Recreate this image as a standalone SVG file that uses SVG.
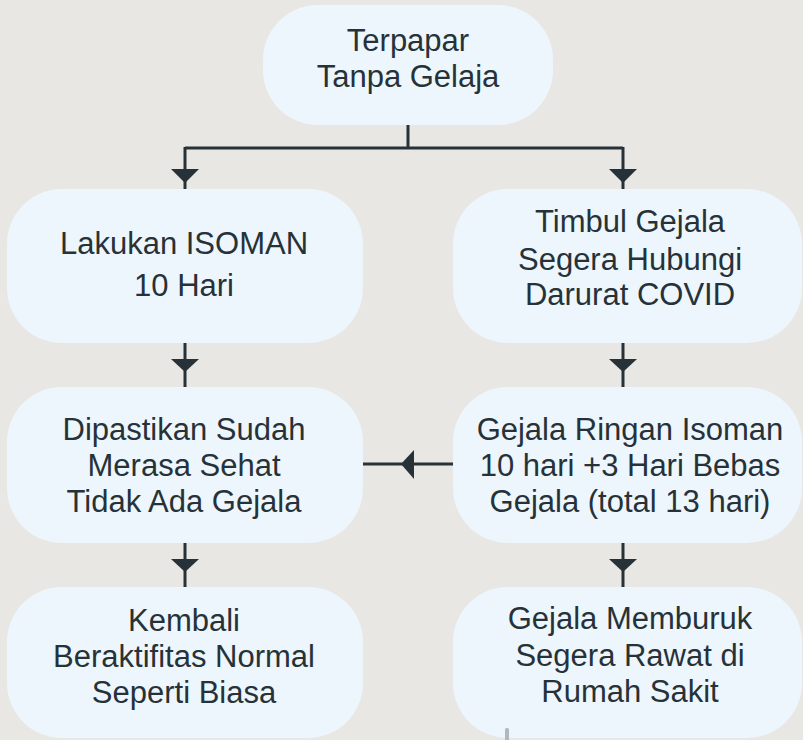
<svg xmlns="http://www.w3.org/2000/svg" width="803" height="740" viewBox="0 0 803 740">
<style>
.bg{fill:#e9e7e4}
.node{fill:#edf6fc}
.t{font-family:"Liberation Sans",Arial,sans-serif;font-size:31px;fill:#263238;text-anchor:middle}
.ln{stroke:#263238;stroke-width:3;fill:none}
.ah{fill:#263238}
</style>
<rect class="bg" x="0" y="0" width="803" height="740"/>
<g id="connectors">
<path class="ln" d="M408 125 V148 M185 148 H623 M185 147 V189 M623 147 V189"/>
<polygon class="ah" points="171,169 199,169 185,183"/>
<polygon class="ah" points="609,169 637,169 623,183"/>
<path class="ln" d="M185 343 V387 M623 343 V387"/>
<polygon class="ah" points="171,359 199,359 185,372"/>
<polygon class="ah" points="609,359 637,359 623,372"/>
<path class="ln" d="M453 464 H363"/>
<polygon class="ah" points="414,450 414,479 401,464"/>
<path class="ln" d="M185 543 V587 M623 543 V587"/>
<polygon class="ah" points="171,559 199,559 185,572"/>
<polygon class="ah" points="609,559 637,559 623,572"/>
</g>
<g id="n-top">
<rect class="node" x="263" y="5" width="290" height="120" rx="55"/>
<text class="t" x="408" y="51">Terpapar</text>
<text class="t" x="408" y="87">Tanpa Gelaja</text>
</g>
<g id="n-isoman">
<rect class="node" x="7" y="189" width="356" height="154" rx="55"/>
<text class="t" x="184" y="254">Lakukan ISOMAN</text>
<text class="t" x="184" y="296">10 Hari</text>
</g>
<g id="n-timbul">
<rect class="node" x="453" y="189" width="349" height="154" rx="55"/>
<text class="t" x="630" y="232">Timbul Gejala</text>
<text class="t" x="630" y="270">Segera Hubungi</text>
<text class="t" x="630" y="305">Darurat COVID</text>
</g>
<g id="n-sehat">
<rect class="node" x="7" y="387" width="356" height="156" rx="55"/>
<text class="t" x="184" y="440">Dipastikan Sudah</text>
<text class="t" x="184" y="476">Merasa Sehat</text>
<text class="t" x="184" y="512">Tidak Ada Gejala</text>
</g>
<g id="n-ringan">
<rect class="node" x="453" y="387" width="349" height="156" rx="55"/>
<text class="t" x="630" y="440">Gejala Ringan Isoman</text>
<text class="t" x="630" y="476">10 hari +3 Hari Bebas</text>
<text class="t" x="630" y="512">Gejala (total 13 hari)</text>
</g>
<g id="n-kembali">
<rect class="node" x="7" y="587" width="356" height="151" rx="55"/>
<text class="t" x="184" y="631">Kembali</text>
<text class="t" x="184" y="667">Beraktifitas Normal</text>
<text class="t" x="184" y="703">Seperti Biasa</text>
</g>
<g id="n-memburuk">
<rect class="node" x="453" y="587" width="349" height="151" rx="55"/>
<text class="t" x="630" y="629">Gejala Memburuk</text>
<text class="t" x="630" y="666">Segera Rawat di</text>
<text class="t" x="630" y="702">Rumah Sakit</text>
</g>
<rect x="505" y="728" width="4" height="14" rx="1.5" fill="#b0b8bc"/>
</svg>
